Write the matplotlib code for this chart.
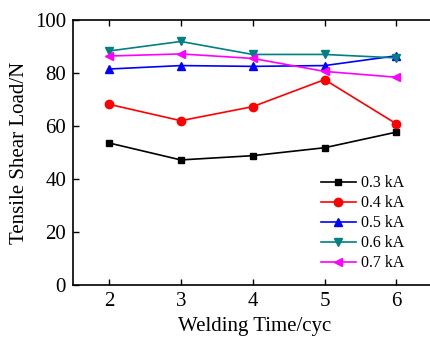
import matplotlib
matplotlib.use('Agg')
import matplotlib.pyplot as plt

plt.rcParams['font.family'] = 'Liberation Serif'
plt.rcParams['mathtext.fontset'] = 'stix'

# Welding time (cyc) and tensile shear load (N) per current
times = [2, 3, 4, 5, 6]
load_03 = [53.6, 47.2, 48.8, 51.8, 57.7]
load_04 = [68.2, 62.0, 67.3, 77.5, 60.8]
load_05 = [81.5, 82.8, 82.5, 82.8, 86.5]
load_06 = [88.3, 91.9, 87.0, 87.0, 85.7]
load_07 = [86.4, 87.2, 85.5, 80.6, 78.4]
labels = ['0.3 kA', '0.4 kA', '0.5 kA', '0.6 kA', '0.7 kA']

fig = plt.figure(figsize=(4.30, 3.41), dpi=100)
ax = fig.add_axes([73 / 430, 56 / 341, 363 / 430, 265 / 341])

ax.plot(times, load_03, color='black', marker='s', markersize=5, lw=1.2, label=labels[0])
ax.plot(times, load_04, color='red', marker='o', markersize=6, lw=1.2, label=labels[1])
ax.plot(times, load_05, color='blue', marker='^', markersize=6, lw=1.2, label=labels[2])
ax.plot(times, load_06, color='#008080', marker='v', markersize=6, lw=1.2, label=labels[3])
ax.plot(times, load_07, color='magenta', marker='<', markersize=6, lw=1.2, label=labels[4])

ax.set_xlim(1.5, 6.55)
ax.set_ylim(0, 100)
ax.set_xticks(times)
ax.set_yticks([0, 20, 40, 60, 80, 100])
ax.tick_params(direction='in', top=True, labelsize=15, length=4, width=1, pad=5)
ax.set_xlabel('Welding Time/cyc', fontsize=15, labelpad=4)
ax.set_ylabel('Tensile Shear Load/N', fontsize=15, labelpad=4)
for s in ax.spines.values():
    s.set_linewidth(1.2)
ax.spines['right'].set_visible(False)

ax.legend(loc='lower left', bbox_to_anchor=(0.665, 0.028), frameon=False, fontsize=11.5,
          handlelength=2.2, labelspacing=0.25, handletextpad=0.3, borderaxespad=0)

fig.savefig('out.png', dpi=100)
